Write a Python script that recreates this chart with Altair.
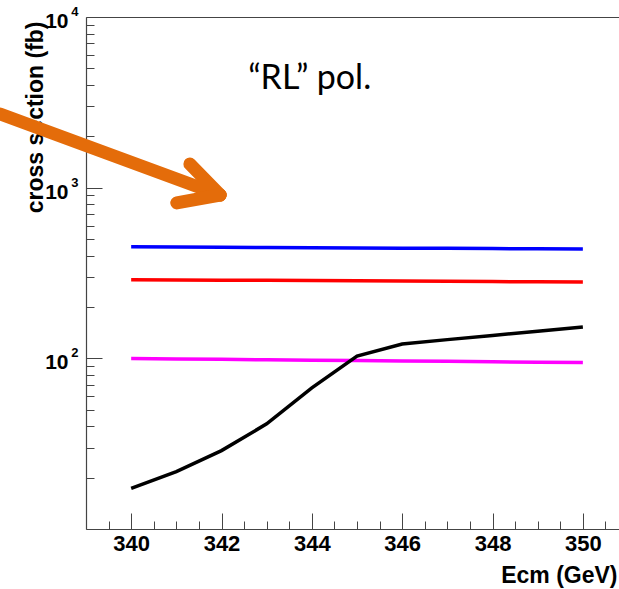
import altair as alt
import pandas as pd

# ---- data ----
ecm = [340, 341, 342, 343, 344, 345, 346, 347, 348, 349, 350]
xs_blue = [450, 449, 447.5, 446, 445, 443.5, 442, 441, 439.5, 438, 436.5]
xs_red = [289, 288, 287, 286.5, 285.5, 284.5, 283.5, 282.5, 281.5, 281, 280]
xs_magenta = [99.8, 99.2, 98.7, 98.1, 97.6, 97.0, 96.5, 96.0, 95.4, 94.9, 94.4]
xs_black = [17.3, 21.7, 28.8, 41.3, 67.1, 103, 121.4, 128.7, 136.1, 144.1, 152.8]

series_names = ["blue", "red", "magenta", "black"]
series_colors = ["#0000ff", "#ff0000", "#ff00ff", "#000000"]

x_major = [340, 342, 344, 346, 348, 350]
x_minor = [339.5, 340.5, 341, 341.5, 342.5, 343, 343.5, 344.5, 345, 345.5,
           346.5, 347, 347.5, 348.5, 349, 349.5, 350.5]
y_major = [10, 100, 1000, 10000]
y_labels = [100, 1000, 10000]
y_minor = [20, 30, 40, 50, 60, 70, 80, 90,
           200, 300, 400, 500, 600, 700, 800, 900,
           2000, 3000, 4000, 5000, 6000, 7000, 8000, 9000]

# annotation arrow (in data coordinates)
arrow_seg = ["shaft", "shaft", "upper", "upper", "lower", "lower"]
arrow_x = [337.10, 341.97, 341.30, 341.97, 341.01, 341.97]
arrow_y = [2702, 906, 1376, 906, 814, 906]

note_text = ["\u201cRL\u201d pol."]
note_x = [342.59]
note_y = [3771]

# ---- tables ----
rows = []
for name, vals in zip(series_names, [xs_blue, xs_red, xs_magenta, xs_black]):
    for e, v in zip(ecm, vals):
        rows.append({"ecm": e, "xsec": v, "series": name})
df = pd.DataFrame(rows)
arrow_df = pd.DataFrame({"seg": arrow_seg, "ecm": arrow_x, "xsec": arrow_y})
note_df = pd.DataFrame({"t": note_text, "ecm": note_x, "xsec": note_y})

W, H = 533, 512
AX = "#444444"
FONT = "Liberation Sans"

xs = alt.Scale(domain=[339, 350.8], nice=False, zero=False)
ys = alt.Scale(type="log", domain=[10, 10000], nice=False)

base = alt.Chart(df)

lines = base.mark_line(strokeWidth=3.5, clip=False).encode(
    x=alt.X("ecm:Q", scale=xs, axis=alt.Axis(
        orient="bottom", values=x_major, format="d", ticks=False, tickSize=0,
        grid=False, domainColor=AX, domainWidth=1.2,
        labelFont=FONT, labelFontWeight="bold", labelFontSize=22,
        labelColor="black", labelPadding=4, labelFlush=False, labelOverlap=False,
        title="Ecm (GeV)", titleFont=FONT, titleFontWeight="bold",
        titleFontSize=23, titleColor="black", titleX=531, titleY=53,
        titleAlign="right", titleBaseline="alphabetic")),
    y=alt.Y("xsec:Q", scale=ys, axis=alt.Axis(
        orient="left", values=y_labels, labelExpr="'10'",
        ticks=False, tickSize=0, grid=False, domainColor=AX, domainWidth=1.2,
        labelFont=FONT, labelFontWeight="bold", labelFontSize=21,
        labelColor="black", labelPadding=18, labelBaseline="alphabetic",
        labelOffset=10.5, labelOverlap=False, labelBound=False,
        title="cross section (fb)", titleFont=FONT, titleFontWeight="bold",
        titleFontSize=23, titleColor="black", titleAngle=270,
        titleX=-44, titleY=4, titleAlign="right", titleBaseline="alphabetic")),
    color=alt.Color("series:N", scale=alt.Scale(domain=series_names, range=series_colors),
                    legend=None),
)

exponents = base.mark_point(opacity=0).encode(
    x=alt.X("ecm:Q", scale=xs, axis=None),
    y=alt.Y("xsec:Q", scale=ys, axis=alt.Axis(
        orient="left", values=y_labels,
        labelExpr="datum.value == 100 ? '2' : datum.value == 1000 ? '3' : '4'",
        ticks=False, tickSize=0, domain=False, grid=False,
        labelFont=FONT, labelFontWeight="bold", labelFontSize=13,
        labelColor="black", labelPadding=8, labelAlign="right",
        labelBaseline="alphabetic", labelOffset=-1.5, labelOverlap=False,
        labelBound=False, title=None)),
)

major = base.mark_point(opacity=0).encode(
    x=alt.X("ecm:Q", scale=xs, axis=alt.Axis(
        orient="top", offset=-H, values=x_major, tickSize=16, tickColor=AX,
        tickWidth=1, labels=False, domain=False, grid=False, title=None)),
    y=alt.Y("xsec:Q", scale=ys, axis=alt.Axis(
        orient="right", offset=-W, values=y_major, tickSize=16, tickColor=AX,
        tickWidth=1, labels=False, domain=False, grid=False, title=None)),
)

minor = base.mark_point(opacity=0).encode(
    x=alt.X("ecm:Q", scale=xs, axis=alt.Axis(
        orient="top", offset=-H, values=x_minor, tickSize=8, tickColor=AX,
        tickWidth=1, labels=False, domain=False, grid=False, title=None)),
    y=alt.Y("xsec:Q", scale=ys, axis=alt.Axis(
        orient="right", offset=-W, values=y_minor, tickSize=8, tickColor=AX,
        tickWidth=1, labels=False, domain=False, grid=False, title=None)),
)

frame = base.mark_point(opacity=0).encode(
    x=alt.X("ecm:Q", scale=xs, axis=alt.Axis(
        orient="top", ticks=False, labels=False, domain=True, domainColor=AX,
        domainWidth=1.2, grid=False, title=None)),
    y=alt.Y("xsec:Q", scale=ys, axis=None),
)

arrow = alt.Chart(arrow_df).mark_line(
    color="#E46C0A", strokeWidth=13, strokeCap="round", strokeJoin="round", clip=False
).encode(
    x=alt.X("ecm:Q", scale=xs, axis=None),
    y=alt.Y("xsec:Q", scale=ys, axis=None),
    detail="seg:N",
)

note = alt.Chart(note_df).mark_text(
    font="Lato", fontSize=34, color="black", align="left", baseline="alphabetic"
).encode(
    x=alt.X("ecm:Q", scale=xs, axis=None),
    y=alt.Y("xsec:Q", scale=ys, axis=None),
    text="t:N",
)

chart = alt.layer(lines, exponents, major, minor, frame, arrow, note).resolve_axis(
    x="independent", y="independent"
).properties(
    width=W, height=H,
    autosize=alt.AutoSizeParams(type="none"),
    padding={"left": 86, "top": 17, "right": 0, "bottom": 60},
).configure_view(stroke=None)

chart.save("out.html", embed_options={"renderer": "svg", "actions": False})
